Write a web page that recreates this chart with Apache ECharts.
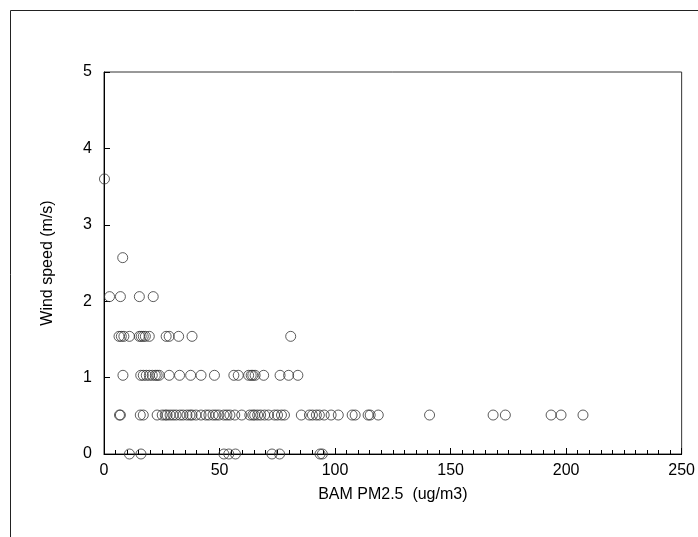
<!DOCTYPE html>
<html>
<head>
<meta charset="utf-8">
<title>Wind speed vs BAM PM2.5</title>
<script src="https://cdn.jsdelivr.net/npm/echarts@6/dist/echarts.min.js"></script>
<style>
  html, body { margin: 0; padding: 0; background: #fff; }
  #chart { width: 698px; height: 537px; }
</style>
</head>
<body>
<div id="chart"></div>
<script>
// wind speed levels (m/s) and the PM2.5 readings observed at each one
const windLevels = [0, 0.51, 1.03, 1.54, 2.06, 2.57, 3.6];

const pmAt0 = [11.0, 16.0, 51.9, 54.0, 56.9, 72.7, 76.0, 93.5, 94.5];
const pmAt051 = [6.7, 7.1, 15.7, 17.0, 23.0, 25.2, 26.5, 27.3, 28.6, 29.9, 31.2, 32.9,
  34.2, 35.9, 37.2, 38.1, 39.8, 42.0, 44.1, 45.4, 47.2, 48.4, 49.7, 51.9, 53.2, 54.5,
  56.6, 59.6, 63.1, 64.4, 65.2, 66.5, 67.8, 69.5, 71.2, 73.8, 75.1, 76.8, 78.1, 85.4,
  88.9, 90.2, 91.9, 93.2, 95.3, 98.3, 101.4, 107.4, 108.7, 114.3, 115.2, 118.7, 140.9,
  168.4, 173.7, 193.5, 197.8, 207.3];
const pmAt103 = [8.2, 15.9, 17.0, 18.3, 19.6, 20.9, 22.2, 23.0, 23.9, 28.2, 32.7, 37.5,
  42.0, 47.8, 56.2, 58.1, 62.6, 63.7, 64.4, 65.4, 69.1, 76.2, 79.9, 83.9];
const pmAt154 = [6.5, 7.5, 8.6, 11.0, 15.3, 16.1, 17.0, 17.9, 19.6, 26.9, 28.2, 32.3, 38.1, 80.8];
const pmAt206 = [2.4, 7.1, 15.3, 21.3];
const pmAt257 = [8.1];
const pmAt36 = [0.2];

const xTicks = [0, 50, 100, 150, 200, 250];
const yTicks = [0, 1, 2, 3, 4, 5];

const rows = [pmAt0, pmAt051, pmAt103, pmAt154, pmAt206, pmAt257, pmAt36];
const points = [];
rows.forEach((row, i) => {
  row.forEach((pm) => points.push([pm, windLevels[i]]));
});

const chart = echarts.init(document.getElementById('chart'));

const font = 'Liberation Sans, Arial, sans-serif';

const option = {
  animation: false,
  backgroundColor: '#fff',
  // outer chart frame, runs off the right and bottom edge
  graphic: [{
    type: 'rect',
    shape: { x: 10.5, y: 10.5, width: 720, height: 560 },
    style: { fill: 'none', stroke: '#222', lineWidth: 1 },
    silent: true
  }],
  grid: {
    left: 104,
    right: 12,
    top: 72,
    bottom: 83,
    show: true,
    borderColor: '#333',
    borderWidth: 1
  },
  xAxis: {
    type: 'value',
    min: xTicks[0],
    max: xTicks[xTicks.length - 1],
    interval: 50,
    name: 'BAM PM2.5  (ug/m3)',
    nameLocation: 'middle',
    nameGap: 33,
    nameTextStyle: { fontFamily: font, fontSize: 16, color: '#000' },
    axisLine: { show: true, onZero: false, lineStyle: { color: '#000', width: 1 } },
    axisTick: { show: true, inside: true, length: 6, lineStyle: { color: '#000' } },
    minorTick: { show: true, splitNumber: 10, length: 4, lineStyle: { color: '#000' } },
    axisLabel: { fontFamily: font, fontSize: 16, color: '#000', margin: 9 },
    splitLine: { show: false }
  },
  yAxis: {
    type: 'value',
    min: yTicks[0],
    max: yTicks[yTicks.length - 1],
    interval: 1,
    name: 'Wind speed (m/s)',
    nameLocation: 'middle',
    nameGap: 48,
    nameRotate: 90,
    nameTextStyle: { fontFamily: font, fontSize: 16, color: '#000' },
    axisLine: { show: true, onZero: false, lineStyle: { color: '#000', width: 1 } },
    axisTick: { show: true, inside: true, length: 6, lineStyle: { color: '#000' } },
    axisLabel: { fontFamily: font, fontSize: 16, color: '#000', margin: 12 },
    splitLine: { show: false }
  },
  series: [{
    type: 'scatter',
    data: points,
    symbol: 'circle',
    symbolSize: 10,
    clip: false,
    itemStyle: {
      color: 'rgba(0,0,0,0)',
      borderColor: '#333',
      borderWidth: 1
    },
    emphasis: { disabled: true }
  }]
};

chart.setOption(option);
</script>
</body>
</html>
